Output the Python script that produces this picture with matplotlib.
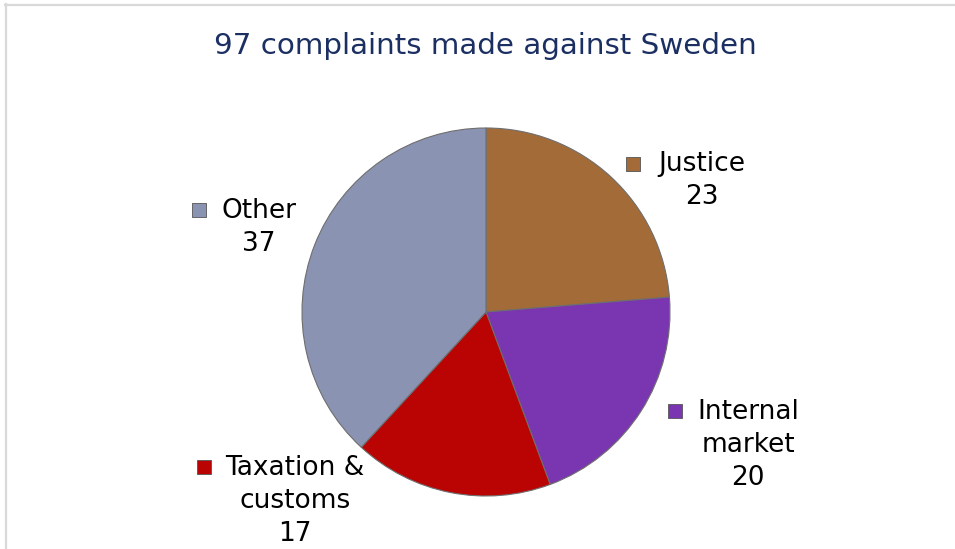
import numpy as np
import matplotlib.pyplot as plt
from matplotlib.lines import Line2D

# data
categories = ["Justice", "Internal market", "Taxation & customs", "Other"]
label_text = ["Justice\n23", "Internal\nmarket\n20", "Taxation &\ncustoms\n17", "Other\n37"]
values = [23, 20, 17, 37]
colors = ["#A36B38", "#7A35B0", "#BA0404", "#8A93B2"]
title = "97 complaints made against Sweden"

W, H = 955, 549

def py(y):
    # pixel row (top down) -> data y
    return H - y

fig = plt.figure(figsize=(W / 100, H / 100), dpi=100)
ax = fig.add_axes([0, 0, 1, 1])

# frame lines (top and left)
ax.add_line(Line2D([5, W], [py(4.5), py(4.5)], color="#D9D9D9", lw=1.6))
ax.add_line(Line2D([5.5, 5.5], [py(4), 0], color="#D9D9D9", lw=1.6))

wedges, _ = ax.pie(values, colors=colors, startangle=90, counterclock=False,
                   center=(486, py(312)), radius=184, frame=True,
                   wedgeprops=dict(edgecolor="#6E6E6E", linewidth=0.8))
ax.set_xlim(0, W)
ax.set_ylim(0, H)
ax.axis("off")

ax.text(485, py(46), title, ha="center", va="center",
        fontsize=21.2, color="#1B2F63")

# label positions (text center x, top y) and legend square position
lab_pos = [(702, 151), (748, 399), (295, 455), (259, 198)]
sq_pos = [(633, 164), (675, 411), (204, 467), (199, 210)]
for i in range(len(values)):
    x, y = lab_pos[i]
    ax.text(x, py(y), label_text[i], ha="center", va="top", fontsize=19,
            color="black", linespacing=1.34)
    sx, sy = sq_pos[i]
    ax.scatter([sx], [py(sy)], marker="s", s=110, color=colors[i],
               edgecolors="#555555", linewidths=0.6, zorder=5)

plt.savefig("out.png", dpi=100)
plt.close()
